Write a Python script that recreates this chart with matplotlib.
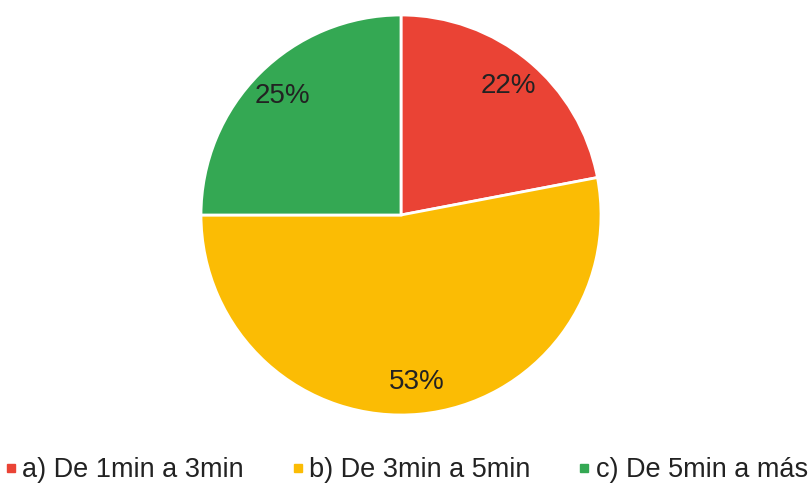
import matplotlib
matplotlib.use("Agg")
import matplotlib.pyplot as plt
from matplotlib.lines import Line2D

labels = ["a) De 1min a 3min", "b) De 3min a 5min", "c) De 5min a más"]
values = [22, 53, 25]
colors = ["#EA4335", "#FBBC04", "#34A853"]

plt.rcParams['font.family'] = ['Liberation Sans', 'DejaVu Sans']

W, H = 809, 486
fig = plt.figure(figsize=(W/100, H/100), dpi=100)
cx, cy, r = 401, 215, 200
ax = fig.add_axes([(cx - r)/W, (H - cy - r)/H, 2*r/W, 2*r/H])
wedges, texts, autotexts = ax.pie(
    values, colors=colors, startangle=90, counterclock=False,
    autopct='%1.0f%%', pctdistance=0.84, radius=1.0,
    wedgeprops=dict(edgecolor='white', linewidth=2),
    textprops=dict(fontsize=20, color='#222222'))
ax.set_xlim(-1, 1)
ax.set_ylim(-1, 1)
ax.set_aspect('auto')
ax.axis('off')

handles = [Line2D([0], [0], marker='s', linestyle='none', markersize=5.5,
                  markerfacecolor=c, markeredgecolor=c) for c in colors]
fig.legend(handles, labels, ncol=3, loc='center', bbox_to_anchor=(407/W, 1 - 470/H),
           frameon=False, fontsize=19.5, handlelength=0.35, handletextpad=0.26,
           columnspacing=1.8, borderpad=0, labelcolor='#222222')

fig.savefig("out.png", dpi=100)
